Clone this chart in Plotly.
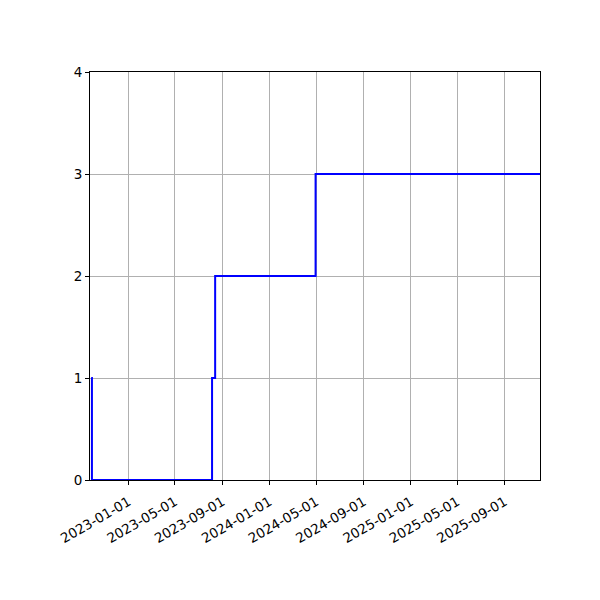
import plotly.graph_objects as go

# step changes of the count over time
dates = ['2022-09-26', '2022-09-28', '2023-08-05', '2023-08-13',
         '2024-04-29', '2025-12-01']
counts = [1, 0, 1, 2, 3, 3]

fig = go.Figure()
fig.add_trace(go.Scatter(x=dates, y=counts, mode='lines',
                         line=dict(color='blue', width=2, shape='hv'),
                         showlegend=False))

axis_style = dict(showline=True, linecolor='black', linewidth=1, mirror=True,
                  ticks='outside', ticklen=4, tickcolor='black',
                  showgrid=True, gridcolor='#b0b0b0', gridwidth=1,
                  zeroline=False, tickfont=dict(family='DejaVu Sans', size=13.5, color='black'))

fig.update_xaxes(range=['2022-09-23', '2025-12-01'], tickformat='%Y-%m-%d',
                 dtick='M4', tick0='2023-01-01', tickangle=-30,
                 ticklabelstandoff=4, **axis_style)
fig.update_yaxes(range=[0, 4], dtick=1, **axis_style)

# page body adds an 8px offset, so margins are trimmed to compensate
fig.update_layout(width=600, height=600, plot_bgcolor='white', paper_bgcolor='white',
                  margin=dict(l=82, r=68, t=64, b=128))

fig.write_html("out.html")
